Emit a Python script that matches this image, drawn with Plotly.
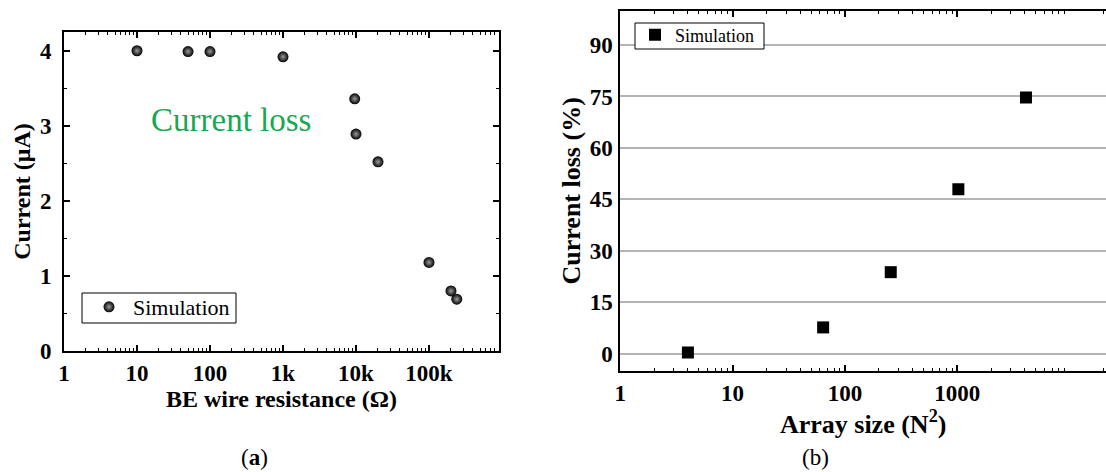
import plotly.graph_objects as go

# Panel (a): current vs. bottom-electrode wire resistance
resistance_ohm = [10, 50, 100, 1000, 9600, 10000, 20000, 100000, 200000, 240000]
current_uA = [4.00, 3.99, 3.99, 3.92, 3.36, 2.89, 2.52, 1.18, 0.80, 0.69]
res_tickvals = [1, 10, 100, 1000, 10000, 100000]
res_ticktext = ["1", "10", "100", "1k", "10k", "100k"]

# Panel (b): current loss vs. array size
array_size = [4, 64, 256, 1024, 4096]
loss_pct = [0.4, 7.7, 23.8, 48.0, 74.7]
size_tickvals = [1, 10, 100, 1000]
size_ticktext = ["1", "10", "100", "1000"]
loss_tickvals = [0, 15, 30, 45, 60, 75, 90]

W, H = 1106, 472
SERIF = "Liberation Serif"


def minor_log_ticks(decades):
    return [k * 10 ** d for d in range(decades) for k in range(2, 10)]


def px_x(p):
    return p / W


def px_y(p):
    return 1 - p / H


def legend_frame(x0, y0, x1, y1):
    return dict(type="rect", xref="paper", yref="paper",
                x0=px_x(x0), x1=px_x(x1), y0=px_y(y1), y1=px_y(y0),
                fillcolor="white", line=dict(color="black", width=1),
                layer="above")


fig = go.Figure()

fig.add_trace(go.Scatter(
    x=resistance_ohm, y=current_uA, mode="markers", name="Simulation",
    marker=dict(size=11, color="black", symbol="circle",
                gradient=dict(type="radial", color="#9a9a9a"),
                line=dict(width=0)),
    xaxis="x", yaxis="y", legend="legend",
))

fig.add_trace(go.Scatter(
    x=array_size, y=loss_pct, mode="markers", name="Simulation",
    marker=dict(size=12, color="black", symbol="square", line=dict(width=0)),
    xaxis="x2", yaxis="y2", legend="legend2",
))

tick_font = dict(family=SERIF, size=23, color="black", weight="bold")
title_font = dict(family=SERIF, size=24, color="black", weight="bold")

fig.update_layout(
    template="none",
    width=W, height=H,
    margin=dict(l=0, r=0, t=0, b=0, autoexpand=False),
    paper_bgcolor="white", plot_bgcolor="white",
    showlegend=True,
    xaxis=dict(
        type="log", domain=[px_x(64), px_x(499)], range=[0, 5.959],
        anchor="y", tickvals=res_tickvals, ticktext=res_ticktext,
        ticks="inside", ticklen=6, tickwidth=1.5, tickcolor="black",
        minor=dict(tickvals=minor_log_ticks(6), ticks="inside", ticklen=3,
                   tickwidth=1, tickcolor="black"),
        showline=True, linecolor="black", linewidth=2, mirror="allticks",
        showgrid=False, zeroline=False, tickfont=tick_font,
        ticklabelstandoff=0, automargin=False,
        title=dict(text="BE wire resistance (Ω)", font=title_font, standoff=2),
    ),
    yaxis=dict(
        domain=[px_y(351), px_y(32)], range=[0, 4.25], anchor="x",
        tickvals=[0, 1, 2, 3, 4], ticks="inside", ticklen=6, tickwidth=1.5,
        tickcolor="black",
        minor=dict(dtick=0.5, ticks="inside", ticklen=3, tickwidth=1,
                   tickcolor="black"),
        showline=True, linecolor="black", linewidth=2, mirror="allticks",
        showgrid=False, zeroline=False, tickfont=tick_font,
        ticklabelstandoff=6, automargin=False,
        title=dict(text="Current (μA)", font=title_font, standoff=3),
    ),
    xaxis2=dict(
        type="log", domain=[px_x(620.3), 1.0], range=[0, 4.325],
        anchor="y2", tickvals=size_tickvals, ticktext=size_ticktext,
        ticks="inside", ticklen=6, tickwidth=1.5, tickcolor="black",
        minor=dict(tickvals=minor_log_ticks(5), ticks="inside", ticklen=3,
                   tickwidth=1, tickcolor="black"),
        showline=True, linecolor="black", linewidth=2, mirror="ticks",
        showgrid=False, zeroline=False, tickfont=tick_font,
        ticklabelstandoff=0, automargin=False,
        title=dict(text="Array size (N<sup>2</sup>)",
                   font=dict(family=SERIF, size=26, color="black", weight="bold"),
                   standoff=2),
    ),
    yaxis2=dict(
        domain=[px_y(371), px_y(10.7)], range=[-5, 100], anchor="x2",
        tickvals=loss_tickvals, ticks="", showline=True, linecolor="black",
        linewidth=2, showgrid=True, gridcolor="#b4b4b4", gridwidth=1.5,
        zeroline=False, tickfont=tick_font,
        ticklabelstandoff=1, automargin=False,
        title=dict(text="Current loss (%)",
                   font=dict(family=SERIF, size=26, color="black", weight="bold"),
                   standoff=2),
    ),
    legend=dict(
        x=px_x(85), y=px_y(286), xanchor="left", yanchor="top",
        bgcolor="rgba(0,0,0,0)", borderwidth=0,
        font=dict(family=SERIF, size=22, color="black"),
        itemwidth=38, tracegroupgap=0,
    ),
    legend2=dict(
        x=px_x(635), y=px_y(16.5), xanchor="left", yanchor="top",
        bgcolor="rgba(0,0,0,0)", borderwidth=0,
        font=dict(family=SERIF, size=18, color="black"),
        itemwidth=30, tracegroupgap=0,
    ),
    shapes=[
        legend_frame(82, 293, 236, 323),
        legend_frame(635, 23, 764, 49),
    ],
    annotations=[
        dict(text="Current loss", x=px_x(231), y=px_y(120), xref="paper",
             yref="paper", xanchor="center", yanchor="middle", showarrow=False,
             font=dict(family=SERIF, size=33, color="#17a852")),
        dict(text="(<b>a</b>)", x=px_x(254), y=px_y(457), xref="paper",
             yref="paper", xanchor="center", yanchor="middle", showarrow=False,
             font=dict(family=SERIF, size=23, color="black")),
        dict(text="(b)", x=px_x(815), y=px_y(457), xref="paper",
             yref="paper", xanchor="center", yanchor="middle", showarrow=False,
             font=dict(family=SERIF, size=23, color="black")),
    ],
)

fig.write_html("out.html")
